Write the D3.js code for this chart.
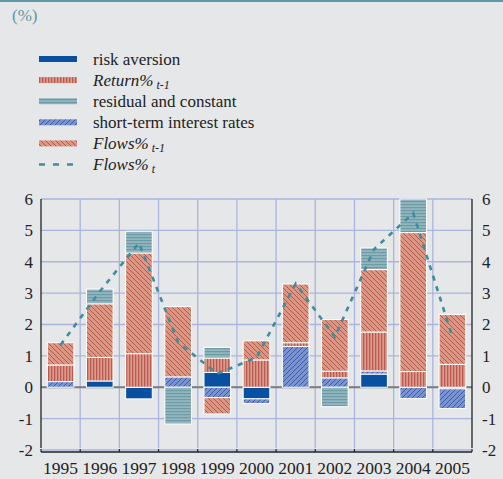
<!DOCTYPE html>
<html><head><meta charset="utf-8">
<script src="https://cdn.jsdelivr.net/npm/d3@7"></script>
<style>
body{margin:0;background:#e6e7e9;}
svg{display:block;font-family:"Liberation Serif","Times New Roman",serif;}
</style></head>
<body><svg id="c" width="503" height="479"></svg>
<script>
const years = ["1995","1996","1997","1998","1999","2000","2001","2002","2003","2004","2005"];
const riskAversion = [0, 0.2, -0.37, 0, 0.47, -0.37, 0, 0, 0.42, 0, -0.05];
const shortTermRates = [0.18, 0, 0, 0.33, -0.33, -0.15, 1.3, 0.3, 0.1, -0.36, -0.63];
const returnLag = [0.53, 0.75, 1.07, 0, 0.46, 0.87, 0.12, 0.21, 1.24, 0.5, 0.73];
const flowsLag = [0.71, 1.71, 3.21, 2.24, -0.52, 0.61, 1.87, 1.65, 1.99, 4.43, 1.59];
const residual = [0, 0.47, 0.69, -1.17, 0.34, 0, 0, -0.62, 0.69, 1.07, 0];
const flowsT = [1.35, 3.05, 4.6, 1.43, 0.43, 0.95, 3.3, 1.6, 4.4, 5.55, 1.6];
const yTicks = [-2,-1,0,1,2,3,4,5,6];

(function(){
const svg = d3.select("#c");
const defs = svg.append("defs");

function pat(id, size, bg, draw){
  const p = defs.append("pattern").attr("id", id).attr("patternUnits","userSpaceOnUse")
    .attr("width", size).attr("height", size);
  p.append("rect").attr("width", size).attr("height", size).attr("fill", bg);
  draw(p);
}
pat("pReturn", 3, "#dc9a8a", p => p.append("rect").attr("x",0).attr("y",0).attr("width",1.3).attr("height",3).attr("fill","#bb5a52"));
pat("pFlows", 5, "#da9884", p => {
  p.append("path").attr("d","M0,0 L5,5 M-1,4 L1,6 M4,-1 L6,1").attr("stroke","#b0443d").attr("stroke-width",0.8);
});
pat("pShort", 5, "#7a93cf", p => {
  p.append("path").attr("d","M0,5 L5,0 M-1,1 L1,-1 M4,6 L6,4").attr("stroke","#2a4da6").attr("stroke-width",0.8);
});
pat("pResid", 3, "#93b6be", p => {
  p.append("rect").attr("x",0).attr("y",0).attr("width",3).attr("height",1.2).attr("fill","#6a9ba6");
});

const series = [
  {key:"risk", vals: riskAversion, fill:"#0a50a1"},
  {key:"short", vals: shortTermRates, fill:"url(#pShort)"},
  {key:"ret", vals: returnLag, fill:"url(#pReturn)"},
  {key:"flows", vals: flowsLag, fill:"url(#pFlows)"},
  {key:"resid", vals: residual, fill:"url(#pResid)"}
];

const L = 41, R = 472, T = 199, B = 450;
const x = d3.scaleBand().domain(years).range([L, R]).paddingInner(0.32).paddingOuter(0.16);
const y = d3.scaleLinear().domain([-2, 6]).range([B, T]);
const step = x.step();

svg.append("rect").attr("x",0).attr("y",0).attr("width",503).attr("height",2).attr("fill","#5f98a6");
svg.append("text").attr("x",12).attr("y",21).attr("font-size",17).attr("fill","#5f98a6").text("(%)");

const g = svg.append("g");
g.selectAll("line.h").data(yTicks).join("line")
  .attr("x1", L).attr("x2", R).attr("y1", d=>y(d)).attr("y2", d=>y(d))
  .attr("stroke","#a9b5de").attr("stroke-width",1.3);
g.selectAll("line.v").data(d3.range(1, years.length)).join("line")
  .attr("x1", i=>L+i*step).attr("x2", i=>L+i*step).attr("y1", T).attr("y2", B-2)
  .attr("stroke","#a9b5de").attr("stroke-width",1.3);
g.append("line").attr("x1",L).attr("x2",R).attr("y1",y(0)).attr("y2",y(0))
  .attr("stroke","#7d7d7d").attr("stroke-width",2);

const fmt = d => String(d);
const axL = d3.axisLeft(y).tickValues(yTicks).tickSize(0).tickPadding(8).tickFormat(fmt);
const axR = d3.axisRight(y).tickValues(yTicks).tickSize(0).tickPadding(10).tickFormat(fmt);
const gl = svg.append("g").attr("transform",`translate(${L},0)`).call(axL);
const gr = svg.append("g").attr("transform",`translate(${R},0)`).call(axR);
[gl,gr].forEach(a=>{
  a.attr("font-family","Liberation Serif").attr("font-size",17);
  a.select(".domain").attr("stroke","#222").attr("stroke-width",1.3).attr("d",`M0,${T}V${B-2}`);
  a.selectAll("text").attr("font-size",17).attr("fill","#222");
});

const xa = svg.append("g");
xa.append("line").attr("x1",L).attr("x2",R).attr("y1",B+2).attr("y2",B+2).attr("stroke","#222").attr("stroke-width",1.3);
xa.selectAll("line.t").data(d3.range(0, years.length+1)).join("line")
  .attr("x1", i=>L+i*step).attr("x2", i=>L+i*step).attr("y1", B+2).attr("y2", B-1)
  .attr("stroke","#222").attr("stroke-width",1.2);
xa.selectAll("text").data(years).join("text")
  .attr("x", d=>x(d)+x.bandwidth()/2).attr("y", B+24)
  .attr("text-anchor","middle").attr("font-size",17).attr("fill","#222")
  .attr("textLength", 35).attr("lengthAdjust","spacingAndGlyphs").text(d=>d);

const table = years.map((yr,i)=>{ const o={year:yr}; series.forEach(s=>o[s.key]=s.vals[i]); return o; });
const stacked = d3.stack().keys(series.map(s=>s.key)).offset(d3.stackOffsetDiverging)(table);
const bars = svg.append("g");
stacked.forEach((layer, li)=>{
  bars.append("g").selectAll("rect").data(layer.filter(d=>Math.abs(d[1]-d[0])>1e-9)).join("rect")
    .attr("x", d=>x(d.data.year)).attr("width", x.bandwidth())
    .attr("y", d=>y(Math.max(d[0],d[1]))).attr("height", d=>Math.abs(y(d[0])-y(d[1])))
    .attr("fill", series[li].fill).attr("stroke","#ffffff").attr("stroke-width",1);
});

const line = d3.line().x((d,i)=>x(years[i])+x.bandwidth()/2).y(d=>y(d));
svg.append("path").datum(flowsT).attr("d", line).attr("fill","none")
  .attr("stroke","#3f8c9c").attr("stroke-width",2.6).attr("stroke-dasharray","5,6");

const legendItems = [
  {type:"rect", fill:"#0a50a1", text:"risk aversion"},
  {type:"rect", fill:"url(#pReturn)", text:"Return%", sub:"t-1", italic:true},
  {type:"rect", fill:"url(#pResid)", text:"residual and constant"},
  {type:"rect", fill:"url(#pShort)", text:"short-term interest rates"},
  {type:"rect", fill:"url(#pFlows)", text:"Flows%", sub:"t-1", italic:true},
  {type:"line", text:"Flows%", sub:"t", italic:true}
];
const lg = svg.append("g");
legendItems.forEach((it,i)=>{
  const cy = 59 + i*21.1;
  if(it.type==="rect"){
    lg.append("rect").attr("x",39).attr("y",cy-3).attr("width",38).attr("height",6).attr("fill",it.fill);
  } else {
    lg.append("line").attr("x1",39).attr("x2",77).attr("y1",cy).attr("y2",cy)
      .attr("stroke","#3f8c9c").attr("stroke-width",2.6).attr("stroke-dasharray","6,8");
  }
  const t = lg.append("text").attr("x",93).attr("y",cy+5.5).attr("font-size",17).attr("fill","#222");
  t.append("tspan").attr("font-style", it.italic?"italic":"normal").text(it.text);
  if(it.sub){
    t.append("tspan").attr("font-style","italic").attr("font-size",12).attr("dx",3).attr("dy",3).text(it.sub);
  }
});
})();
</script>
</body></html>
